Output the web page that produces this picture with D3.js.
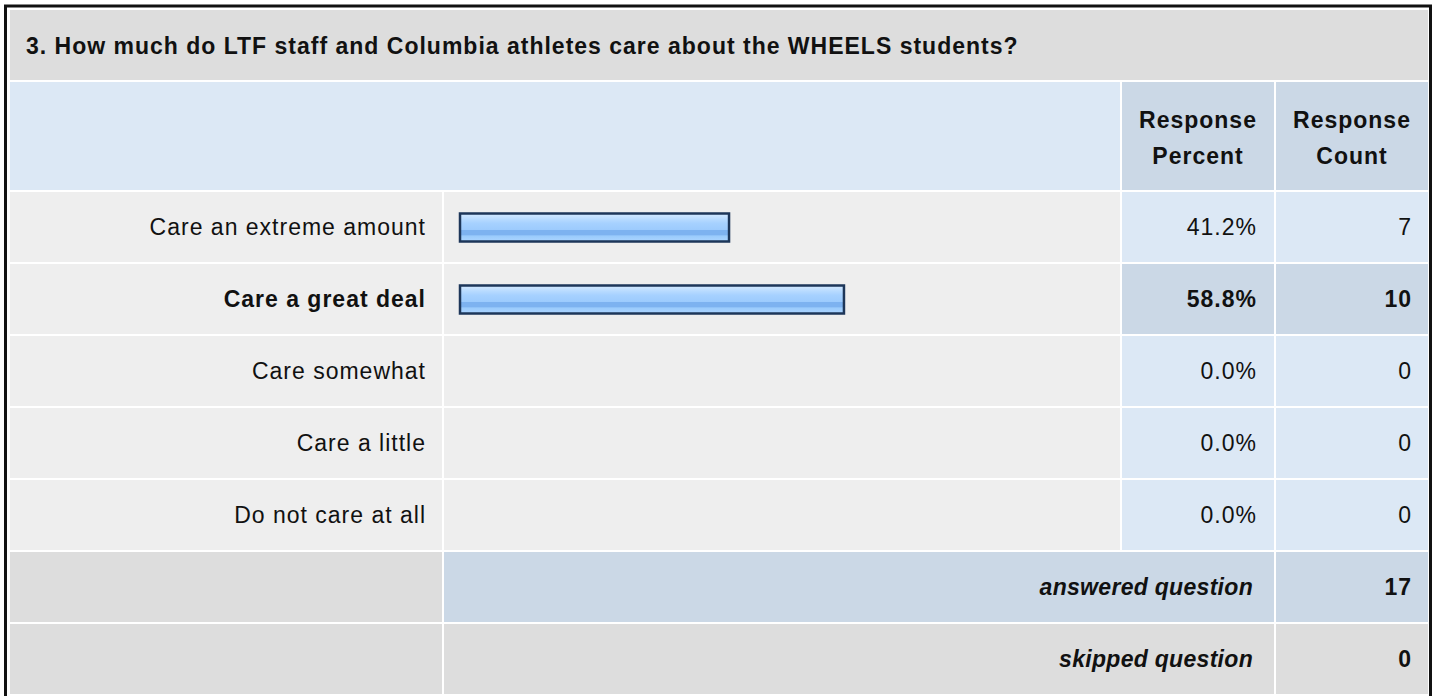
<!DOCTYPE html>
<html>
<head>
<meta charset="utf-8">
<script src="https://cdn.jsdelivr.net/npm/d3@7"></script>
<style>
    html, body { margin: 0; padding: 0; background: #fff; }
    svg { display: block; }
</style>
</head>
<body>
<svg id="chart"></svg>
<script>
// data dari gambar
const questionTitle = '3. How much do LTF staff and Columbia athletes care about the WHEELS students?';
const categories = ['Care an extreme amount', 'Care a great deal', 'Care somewhat', 'Care a little', 'Do not care at all'];
const percents = [41.2, 58.8, 0.0, 0.0, 0.0];
const counts = [7, 10, 0, 0, 0];
const headerLines = [['Response', 'Percent'], ['Response', 'Count']];
const summaryLabels = ['answered question', 'skipped question'];
const summaryValues = [17, 0];

const width = 1437;
const height = 696;
const fontFamily = 'Arial, "Liberation Sans", sans-serif';

const svg = d3.select('#chart')
    .attr('width', width)
    .attr('height', height);

// gradient untuk bar
const defs = svg.append('defs');
const grad = defs.append('linearGradient')
    .attr('id', 'barGrad')
    .attr('x1', 0).attr('y1', 0).attr('x2', 0).attr('y2', 1);
[
    [0, '#d6eaff'], [0.2, '#b8dbff'], [0.35, '#a6d1ff'], [0.58, '#9dcbfd'],
    [0.6, '#7db2f0'], [0.76, '#7db2f0'], [0.8, '#9acbfc'], [1, '#acd4ff']
].forEach(s => grad.append('stop').attr('offset', s[0]).attr('stop-color', s[1]));

// kolom
const col = {
    label: [10, 442],
    bar: [444, 1120],
    pct: [1122, 1274],
    cnt: [1276, 1428]
};

// skala baris dan bar
const y = d3.scaleBand()
    .domain(categories)
    .range([192, 552]);
const rowH = y.bandwidth() - 2;

const x = d3.scaleLinear()
    .domain([0, 100])
    .range([460, 1113]);

const maxIndex = d3.maxIndex(percents);

function cell(x0, x1, y0, h, fill) {
    svg.append('rect')
        .attr('x', x0).attr('y', y0)
        .attr('width', x1 - x0).attr('height', h)
        .attr('fill', fill);
}

function label(txt, xPos, yPos, anchor, opts) {
    opts = opts || {};
    return svg.append('text')
        .attr('x', xPos)
        .attr('y', yPos)
        .attr('text-anchor', anchor)
        .style('font-family', fontFamily)
        .style('font-size', '23px')
        .style('font-weight', opts.bold ? 'bold' : 'normal')
        .style('font-style', opts.italic ? 'italic' : 'normal')
        .style('letter-spacing', opts.italic ? '0.3px' : '1px')
        .style('fill', '#111')
        .text(txt);
}

// judul
cell(10, 1428, 10, 70, '#dddddd');
label(questionTitle, 26, 54, 'start', { bold: true });

// header
cell(col.label[0], col.bar[1], 82, 108, '#dce8f5');
cell(col.pct[0], col.pct[1], 82, 108, '#cbd8e6');
cell(col.cnt[0], col.cnt[1], 82, 108, '#cbd8e6');
[col.pct, col.cnt].forEach((c, i) => {
    const cx = (c[0] + c[1]) / 2;
    label(headerLines[i][0], cx, 128, 'middle', { bold: true });
    label(headerLines[i][1], cx, 164, 'middle', { bold: true });
});

// baris data
categories.forEach((d, i) => {
    const y0 = y(d);
    const bold = i === maxIndex;
    const blue = bold ? '#cbd8e6' : '#dce8f5';
    cell(col.label[0], col.label[1], y0, rowH, '#eeeeee');
    cell(col.bar[0], col.bar[1], y0, rowH, '#eeeeee');
    cell(col.pct[0], col.pct[1], y0, rowH, blue);
    cell(col.cnt[0], col.cnt[1], y0, rowH, blue);

    const base = y0 + rowH / 2 + 8;
    label(d, col.label[1] - 16, base, 'end', { bold: bold });
    label(percents[i].toFixed(1) + '%', col.pct[1] - 17, base, 'end', { bold: bold });
    label(counts[i], col.cnt[1] - 16, base, 'end', { bold: bold });
});

// bar
svg.selectAll('.bar')
    .data(percents.filter(p => p > 0))
    .enter().append('rect')
    .attr('class', 'bar')
    .attr('x', x(0))
    .attr('y', (d, i) => y(categories[i]) + rowH / 2 - 13.5)
    .attr('width', d => x(d) - x(0))
    .attr('height', 28)
    .attr('fill', 'url(#barGrad)')
    .attr('stroke', '#1d3659')
    .attr('stroke-width', 2.5);

// ringkasan
summaryLabels.forEach((s, i) => {
    const y0 = 552 + i * 72;
    const fill = i === 0 ? '#cbd8e6' : '#dddddd';
    cell(col.label[0], col.label[1], y0, rowH, '#dddddd');
    cell(col.bar[0], col.pct[1], y0, rowH, fill);
    cell(col.cnt[0], col.cnt[1], y0, rowH, fill);
    const base = y0 + rowH / 2 + 8;
    label(s, col.pct[1] - 21, base, 'end', { bold: true, italic: true });
    label(summaryValues[i], col.cnt[1] - 16, base, 'end', { bold: true });
});

// bingkai luar
svg.append('rect')
    .attr('x', 5.5).attr('y', 6)
    .attr('width', 1425).attr('height', 700)
    .attr('fill', 'none')
    .attr('stroke', '#111')
    .attr('stroke-width', 3);
</script>
</body>
</html>
